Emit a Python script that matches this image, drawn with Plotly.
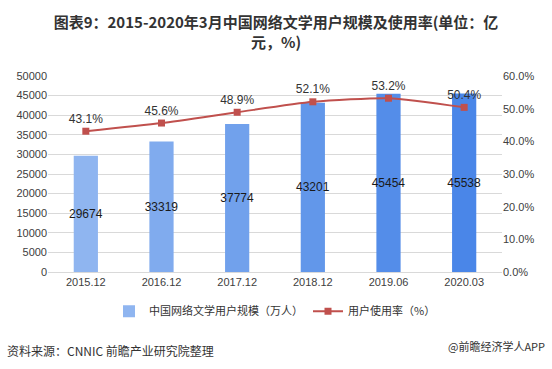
import plotly.graph_objects as go

categories = ["2015.12", "2016.12", "2017.12", "2018.12", "2019.06", "2020.03"]
users = [29674, 33319, 37774, 43201, 45454, 45538]
rate = [43.1, 45.6, 48.9, 52.1, 53.2, 50.4]
bar_colors = ["#8fb5f0", "#80abee", "#71a1ec", "#6297ea", "#548de9", "#4a86e8"]
left_ticks = list(range(0, 50001, 5000))
right_ticks = [0, 10, 20, 30, 40, 50, 60]

FONT = "Noto Sans CJK SC"
NUMF = "Liberation Sans"

fig = go.Figure()
fig.add_trace(go.Bar(
    x=categories, y=users, name="中国网络文学用户规模（万人）",
    marker=dict(color=bar_colors, line=dict(width=0)),
    text=[str(v) for v in users], textposition="inside", insidetextanchor="middle",
    textangle=0, constraintext="none",
    textfont=dict(color="#1a1a1a", size=12, family=NUMF),
    width=0.32, yaxis="y",
))
fig.add_trace(go.Scatter(
    x=categories, y=rate, name="用户使用率（%）", yaxis="y2",
    mode="lines+markers+text", line=dict(color="#c0504d", width=2, shape="spline", smoothing=0.6),
    marker=dict(symbol="square", size=7, color="#c0504d"),
    text=[f"{v:.1f}%" for v in rate], textposition="top center",
    textfont=dict(color="#333333", size=12, family=NUMF),
))

fig.update_layout(
    width=552, height=369,
    margin=dict(l=48, r=50, t=76, b=97, autoexpand=False),
    paper_bgcolor="white", plot_bgcolor="white",
    font=dict(family=FONT, color="#404040", size=11),
    title=dict(text="<b>图表9：2015-2020年3月中国网络文学用户规模及使用率(单位：亿<br>元，%)</b>",
               x=0.5, xanchor="center", xref="container", yref="container",
               y=0.924, yanchor="middle",
               font=dict(size=15, color="#333333", family=FONT)),
    xaxis=dict(showgrid=False, showline=True, linecolor="#d9d9d9", ticks="",
               tickfont=dict(size=11, family=NUMF, color="#404040")),
    yaxis=dict(range=[0, 50000], tickvals=left_ticks, ticktext=[str(v) for v in left_ticks],
               showgrid=True, gridcolor="#d9d9d9",
               zeroline=False, ticks="", tickfont=dict(size=11, family=NUMF, color="#404040")),
    yaxis2=dict(range=[0, 60], tickvals=right_ticks, ticktext=[f"{v:.1f}%" for v in right_ticks],
                overlaying="y", side="right", showgrid=False, zeroline=False,
                tickfont=dict(size=11, family=NUMF, color="#404040")),
    legend=dict(orientation="h", x=0.5, xanchor="center", y=-0.2, yanchor="middle",
                font=dict(size=11, family=FONT, color="#333333")),
    showlegend=True,
    annotations=[
        dict(text="资料来源：CNNIC 前瞻产业研究院整理", xref="paper", yref="paper",
             x=-0.095, y=-0.398, xanchor="left", yanchor="middle", showarrow=False,
             font=dict(size=12, family=FONT, color="#333333")),
        dict(text="@前瞻经济学人APP", xref="paper", yref="paper",
             x=1.1, y=-0.38, xanchor="right", yanchor="middle", showarrow=False,
             font=dict(size=11, family=FONT, color="#333333")),
    ],
)

fig.write_html("out.html", config={"displayModeBar": False},
               post_script="document.body.style.margin='0';")
